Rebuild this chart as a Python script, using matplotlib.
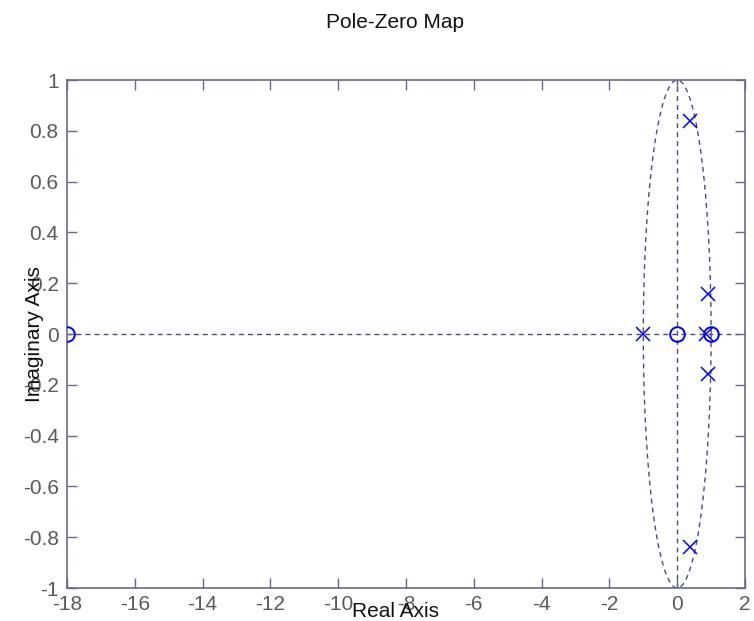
import numpy as np
import matplotlib
matplotlib.use("Agg")
import matplotlib.pyplot as plt

plt.rcParams['font.family'] = ['Liberation Sans', 'DejaVu Sans']

# Poles and zeros of the system (real, imag)
pole_re = [0.38, 0.38, 0.90, 0.90, -1.0, 0.85]
pole_im = [0.84, -0.84, 0.157, -0.157, 0.0, 0.0]
zero_re = [-18.0, 0.0, 1.0]
zero_im = [0.0, 0.0, 0.0]

xticks = [-18, -16, -14, -12, -10, -8, -6, -4, -2, 0, 2]
yticks = [-1, -0.8, -0.6, -0.4, -0.2, 0, 0.2, 0.4, 0.6, 0.8, 1]
xlim = (-18, 2)
ylim = (-1, 1)

axis_col = '#6a6a88'
grid_col = '#4c4c7c'
text_col = '#5a5a5a'
mark_col = '#0000ff'
fs = 15

fig = plt.figure(figsize=(7.54, 6.21), dpi=100)
ax = fig.add_axes([67/754, 33/621, 678/754, 508/621])

# reference lines through the origin and the unit circle
dash = (0, (3.5, 3))
ax.axhline(0, color=grid_col, ls=dash, lw=1.0, zorder=1)
ax.axvline(0, color=grid_col, ls=dash, lw=1.0, zorder=1)
th = np.linspace(0, 2*np.pi, 400)
ax.plot(np.cos(th), np.sin(th), color=grid_col, ls=dash, lw=1.0, zorder=1)

ax.plot(pole_re, pole_im, ls='none', marker='x', ms=10, mew=1.1, color=mark_col, zorder=3)
ax.plot(zero_re, zero_im, ls='none', marker='o', ms=10.5, mew=1.4, mfc='none', color=mark_col, zorder=3)

ax.set_xlim(*xlim)
ax.set_ylim(*ylim)
ax.set_xticks(xticks)
ax.set_yticks(yticks)
ax.set_xticklabels([f'{v:g}' for v in xticks])
ax.set_yticklabels([f'{v:g}' for v in yticks])
ax.tick_params(direction='in', length=7, width=1, color=axis_col, labelcolor=text_col,
               labelsize=fs, top=True, right=True)
ax.tick_params(axis='y', pad=6)
ax.tick_params(axis='x', pad=5)
for s in ax.spines.values():
    s.set_color(axis_col)
    s.set_linewidth(1.2)

ax.set_xlabel('Real Axis', fontsize=fs, color='#111111')
ax.xaxis.set_label_coords(0.484, -0.028)
ax.xaxis.label.set_va('top')
ax.set_ylabel('Imaginary Axis', fontsize=fs, color='#111111')
ax.yaxis.set_label_coords(-0.034, 0.5)

fig.text(395/754, 1 - 22/621, 'Pole-Zero Map', ha='center', va='center',
         fontsize=fs, color='#111111')

fig.savefig('out.png', dpi=100)
